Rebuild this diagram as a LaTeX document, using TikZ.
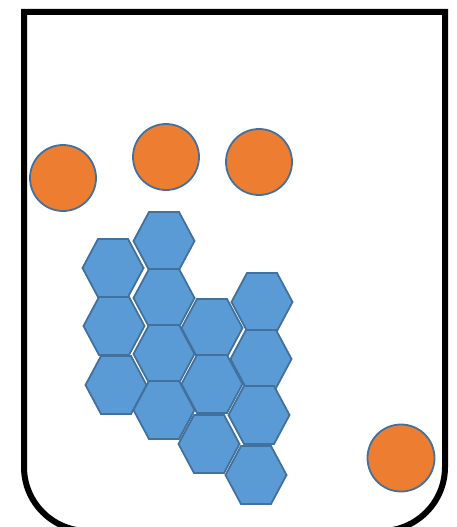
\documentclass[tikz,border=0pt]{standalone}
\definecolor{hexfill}{HTML}{5B9BD5}
\definecolor{edgeblue}{HTML}{41719C}
\definecolor{ballfill}{HTML}{ED7D31}
\tikzset{
  hexstyle/.style={fill=hexfill, draw=edgeblue, line width=1.8pt, line join=miter},
  ball/.style={circle, fill=ballfill, draw=edgeblue, line width=1.8pt, inner sep=0pt},
  container/.style={draw=black, line width=6pt, line join=miter},
  hexa/.pic={\path[hexstyle] (-30.5,0) -- (-15,-29) -- (15,-29) -- (30.5,0) -- (15,29) -- (-15,29) -- cycle;}
}
\begin{document}
\begin{tikzpicture}[x=1pt,y=-1pt]
\useasboundingbox (0,0) rectangle (457,527);
% container
\path[container] (24,300) [rounded corners=64pt] -- (24,531) -- (445,531) -- (445,300) [sharp corners] -- (445,12) -- (24,12) -- cycle;
% hexagons
\foreach \x/\y in {113/268, 114/326, 116/385,
                   164/241, 164/298, 164/354, 164/410,
                   212/328, 212/384, 209/444,
                   262/302, 261/359, 259/415, 256/475}
  \pic at (\x,\y) {hexa};
% balls
\node[ball, minimum size=66pt] (b1) at (63,178) {};
\node[ball, minimum size=66pt] (b2) at (166,157) {};
\node[ball, minimum size=66pt] (b3) at (259,162) {};
\node[ball, minimum size=67pt] (b4) at (401,458) {};
\end{tikzpicture}
\end{document}
